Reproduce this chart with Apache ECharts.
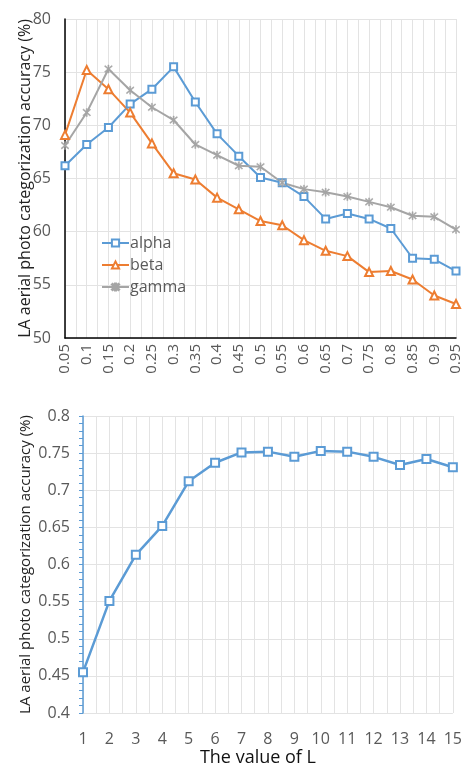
<!DOCTYPE html>
<html>
<head>
<meta charset="utf-8">
<script src="https://cdn.jsdelivr.net/npm/echarts@6/dist/echarts.min.js"></script>
<style>
html,body{margin:0;padding:0;background:#fff;}
#chart{width:465px;height:768px;}
</style>
</head>
<body>
<div id="chart"></div>
<script>
// ---- data ----
const lambdaLabels = ['0.05','0.1','0.15','0.2','0.25','0.3','0.35','0.4','0.45','0.5','0.55','0.6','0.65','0.7','0.75','0.8','0.85','0.9','0.95'];
const alpha = [66.2,68.2,69.8,72.0,73.4,75.5,72.2,69.2,67.1,65.1,64.6,63.3,61.2,61.7,61.2,60.3,57.5,57.4,56.3];
const beta  = [69.1,75.2,73.4,71.2,68.3,65.5,64.9,63.2,62.1,61.0,60.6,59.2,58.2,57.7,56.2,56.3,55.5,54.0,53.2];
const gamma = [68.1,71.2,75.3,73.3,71.7,70.5,68.2,67.2,66.2,66.1,64.6,64.0,63.7,63.3,62.8,62.3,61.5,61.4,60.2];
const seriesNames = ['alpha','beta','gamma'];
const topYTicks = [50,55,60,65,70,75,80];

const lLabels = ['1','2','3','4','5','6','7','8','9','10','11','12','13','14','15'];
const accL = [0.455,0.551,0.613,0.652,0.712,0.737,0.751,0.752,0.745,0.753,0.752,0.745,0.734,0.742,0.731];
const bottomYTicks = [0.4,0.45,0.5,0.55,0.6,0.65,0.7,0.75,0.8];

const yTitle = 'LA aerial photo categorization accuracy (%)';
const xTitleBottom = 'The value of L';

// ---- styles ----
const BLUE = '#5B9BD5', ORANGE = '#ED7D31', GRAY = '#A5A5A5';
const FONT = 'Open Sans';
const LABEL_COLOR = '#595959';
const GRID_COLOR = '#e3e3e3';
const asterisk = 'path://M4.4,0L5.6,0L5.6,10L4.4,10Z M0.6,1.5L1.5,0.6L9.4,8.5L8.5,9.4Z M8.5,0.6L9.4,1.5L1.5,9.4L0.6,8.5Z';

const topData = arr => lambdaLabels.map((l, i) => [parseFloat(l), arr[i]]);
const botData = lLabels.map((l, i) => [parseFloat(l), accL[i]]);

const chart = echarts.init(document.getElementById('chart'), null, {renderer: 'canvas'});

const option = {
  backgroundColor: '#fff',
  animation: false,
  textStyle: {fontFamily: FONT},
  legend: {
    data: seriesNames,
    orient: 'vertical',
    left: 101,
    top: 235,
    padding: 0,
    itemWidth: 27,
    itemHeight: 9,
    itemGap: 6,
    textStyle: {color: LABEL_COLOR, fontSize: 16, fontFamily: FONT, padding: [0, 0, 0, -4]}
  },
  grid: [
    {left: 65, right: 9, top: 19, bottom: 430, containLabel: false},
    {left: 83, right: 6, top: 416, bottom: 49, containLabel: false}
  ],
  xAxis: [
    {
      gridIndex: 0, type: 'value',
      min: parseFloat(lambdaLabels[0]), max: parseFloat(lambdaLabels[lambdaLabels.length - 1]), interval: 0.05,
      axisLine: {show: true, lineStyle: {color: '#000', width: 1.5}},
      axisTick: {show: false},
      axisLabel: {
        rotate: 90, margin: 6, color: LABEL_COLOR, fontSize: 15, fontFamily: FONT,
        formatter: v => lambdaLabels[Math.round((v - parseFloat(lambdaLabels[0])) / 0.05)] || ''
      },
      splitLine: {show: true, lineStyle: {color: GRID_COLOR, width: 1}},
      minorTick: {show: false, splitNumber: 2},
      minorSplitLine: {show: true, lineStyle: {color: GRID_COLOR, width: 1}}
    },
    {
      gridIndex: 1, type: 'value',
      min: 1, max: 15, interval: 1,
      axisLine: {show: false},
      axisTick: {show: false},
      axisLabel: {
        margin: 18, color: LABEL_COLOR, fontSize: 16, fontFamily: FONT,
        formatter: v => lLabels[Math.round(v) - 1] || ''
      },
      splitLine: {show: true, lineStyle: {color: GRID_COLOR, width: 1}},
      minorTick: {show: false, splitNumber: 2},
      minorSplitLine: {show: true, lineStyle: {color: GRID_COLOR, width: 1}},
      name: xTitleBottom, nameLocation: 'middle', nameGap: 36,
      nameTextStyle: {color: '#111', fontSize: 18, fontFamily: FONT, padding: [0, 20, 0, 0]}
    }
  ],
  yAxis: [
    {
      gridIndex: 0, type: 'value',
      min: topYTicks[0], max: topYTicks[topYTicks.length - 1], interval: 5,
      axisLine: {show: true, lineStyle: {color: '#000', width: 1.5}},
      axisTick: {show: false},
      axisLabel: {margin: 14, color: LABEL_COLOR, fontSize: 16, fontFamily: FONT},
      splitLine: {show: true, lineStyle: {color: GRID_COLOR, width: 1}},
      name: yTitle, nameLocation: 'middle', nameGap: 32, nameRotate: 90, nameMoveOverlap: false,
      nameTextStyle: {color: '#222', fontSize: 16, fontFamily: FONT}
    },
    {
      gridIndex: 1, type: 'value',
      min: bottomYTicks[0], max: bottomYTicks[bottomYTicks.length - 1], interval: 0.05,
      axisLine: {show: true, lineStyle: {color: BLUE, width: 1.5}},
      axisTick: {show: true, inside: false, length: 4, lineStyle: {color: BLUE, width: 1}},
      minorTick: {show: true, splitNumber: 5, length: 4, lineStyle: {color: BLUE, width: 1}},
      axisLabel: {margin: 13, color: LABEL_COLOR, fontSize: 16, fontFamily: FONT},
      splitLine: {show: true, lineStyle: {color: GRID_COLOR, width: 1}},
      name: yTitle, nameLocation: 'middle', nameGap: 50, nameRotate: 90, nameMoveOverlap: false,
      nameTextStyle: {color: '#222', fontSize: 15, fontFamily: FONT}
    }
  ],
  series: [
    {
      name: seriesNames[0], type: 'line', xAxisIndex: 0, yAxisIndex: 0,
      data: topData(alpha),
      symbol: 'emptyRect', symbolSize: 7,
      lineStyle: {color: BLUE, width: 2},
      itemStyle: {color: BLUE, borderWidth: 1.5}
    },
    {
      name: seriesNames[1], type: 'line', xAxisIndex: 0, yAxisIndex: 0,
      data: topData(beta),
      symbol: 'emptyTriangle', symbolSize: 8,
      lineStyle: {color: ORANGE, width: 2},
      itemStyle: {color: ORANGE, borderWidth: 1.5}
    },
    {
      name: seriesNames[2], type: 'line', xAxisIndex: 0, yAxisIndex: 0,
      data: topData(gamma),
      symbol: asterisk, symbolSize: 8,
      lineStyle: {color: GRAY, width: 2},
      itemStyle: {color: GRAY, borderColor: GRAY, borderWidth: 0.5}
    },
    {
      name: 'L', type: 'line', xAxisIndex: 1, yAxisIndex: 1,
      data: botData,
      symbol: 'emptyRect', symbolSize: 8,
      lineStyle: {color: BLUE, width: 2.5},
      itemStyle: {color: BLUE, borderWidth: 1.5}
    }
  ]
};
chart.setOption(option);
</script>
</body>
</html>
